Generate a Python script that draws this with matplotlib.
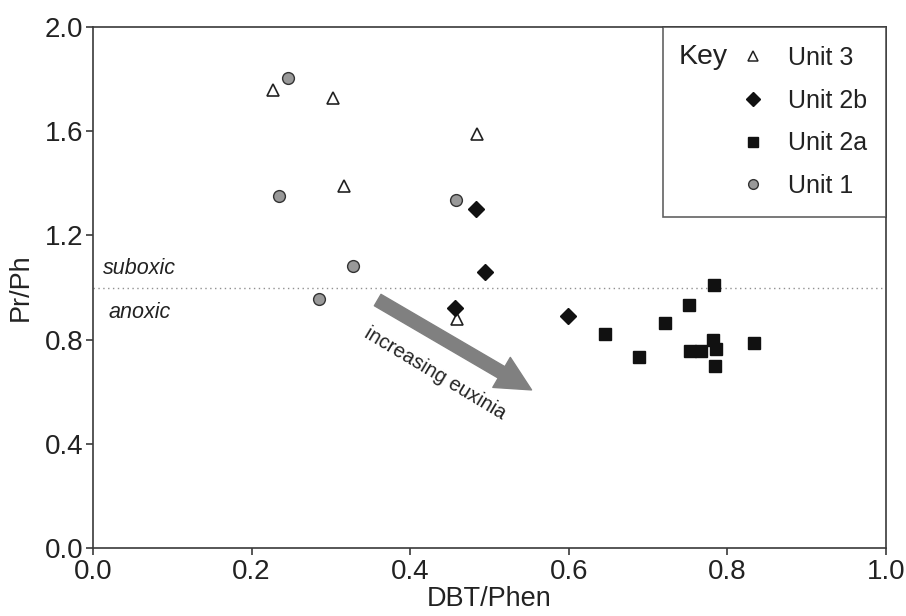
import matplotlib
matplotlib.use('Agg')
import matplotlib.pyplot as plt
from matplotlib.lines import Line2D

plt.rcParams['font.family'] = ['Liberation Sans', 'DejaVu Sans']

# Unit 3 (open triangles)
u3_x = [0.227, 0.303, 0.484, 0.317, 0.459]
u3_y = [1.758, 1.726, 1.589, 1.391, 0.878]
# Unit 2b (diamonds)
u2b_x = [0.483, 0.494, 0.4565, 0.599]
u2b_y = [1.301, 1.058, 0.920, 0.891]
# Unit 2a (squares)
u2a_x = [0.645, 0.689, 0.721, 0.751, 0.7835, 0.753, 0.767, 0.782, 0.785, 0.784, 0.834]
u2a_y = [0.820, 0.734, 0.862, 0.932, 1.0096, 0.757, 0.757, 0.798, 0.764, 0.699, 0.786]
# Unit 1 (grey circles)
u1_x = [0.246, 0.235, 0.458, 0.328, 0.285]
u1_y = [1.805, 1.351, 1.336, 1.083, 0.957]

x_ticks = [0.0, 0.2, 0.4, 0.6, 0.8, 1.0]
y_ticks = [0.0, 0.4, 0.8, 1.2, 1.6, 2.0]
redox_boundary = 1.0

fig = plt.figure(figsize=(9.06, 6.16), dpi=100)
ax = fig.add_axes([0.1026, 0.1104, 0.8754, 0.8456])

edge = '#3a3a3a'
ax.axhline(redox_boundary, color='#909090', linestyle=(0, (1, 2.5)), linewidth=1.0, zorder=1)

ax.plot(u3_x, u3_y, linestyle='none', marker='^', markersize=9, markerfacecolor='white',
        markeredgecolor='#222222', markeredgewidth=1.2, zorder=3)
ax.plot(u1_x, u1_y, linestyle='none', marker='o', markersize=8.5, markerfacecolor='#999999',
        markeredgecolor='#333333', markeredgewidth=1.0, zorder=3)
ax.plot(u2b_x, u2b_y, linestyle='none', marker='D', markersize=8.5, markerfacecolor='#111111',
        markeredgecolor='#111111', zorder=4)
ax.plot(u2a_x, u2a_y, linestyle='none', marker='s', markersize=9, markerfacecolor='#111111',
        markeredgecolor='#111111', zorder=4)

# arrow + labels
ax.annotate('', xy=(0.553, 0.607), xytext=(0.359, 0.952),
            arrowprops=dict(arrowstyle='simple,head_length=25,head_width=25,tail_width=9.5',
                            mutation_scale=1, color='#808080', shrinkA=0, shrinkB=0),
            zorder=2)
ax.text(0.431, 0.672, 'increasing euxinia', rotation=-31, ha='center', va='center',
        fontsize=14.5, color='#222222', rotation_mode='anchor')
ax.text(0.012, 1.075, 'suboxic', style='italic', fontsize=15.5, color='#222222', va='center')
ax.text(0.019, 0.905, 'anoxic', style='italic', fontsize=15.5, color='#222222', va='center')

ax.set_xlim(0, 1.0)
ax.set_ylim(0, 2.0)
ax.set_xticks(x_ticks)
ax.set_yticks(y_ticks)
ax.set_xticklabels(['%.1f' % t for t in x_ticks])
ax.set_yticklabels(['%.1f' % t for t in y_ticks])
ax.tick_params(direction='out', length=5, width=1.2, color=edge, labelsize=20,
               labelcolor='#222222', pad=2)
ax.tick_params(axis='x', pad=3)
for s in ax.spines.values():
    s.set_color(edge)
    s.set_linewidth(1.2)

ax.set_xlabel('DBT/Phen', fontsize=19.5, color='#222222', labelpad=1)
ax.set_ylabel('Pr/Ph', fontsize=19.5, color='#222222', labelpad=8)

handles = [
    Line2D([], [], linestyle='none', marker='^', markersize=7, markerfacecolor='white',
           markeredgecolor='#222222', markeredgewidth=1.1),
    Line2D([], [], linestyle='none', marker='D', markersize=7, markerfacecolor='#111111',
           markeredgecolor='#111111'),
    Line2D([], [], linestyle='none', marker='s', markersize=7, markerfacecolor='#111111',
           markeredgecolor='#111111'),
    Line2D([], [], linestyle='none', marker='o', markersize=7, markerfacecolor='#999999',
           markeredgecolor='#333333'),
]
leg = ax.legend(handles, ['Unit 3', 'Unit 2b', 'Unit 2a', 'Unit 1'], loc='upper right',
                bbox_to_anchor=(1.0, 1.0), borderaxespad=0, fontsize=18, frameon=True,
                fancybox=False, handlelength=5.68, handletextpad=-1.44, labelspacing=0.75,
                borderpad=0.75)
leg.get_frame().set_edgecolor(edge)
leg.get_frame().set_linewidth(1.2)
for t in leg.get_texts():
    t.set_color('#222222')
ax.text(0.738, 0.9424, 'Key', transform=ax.transAxes, fontsize=20.5, color='#222222',
        ha='left', va='center', zorder=6)

fig.savefig('out.png', dpi=100)
